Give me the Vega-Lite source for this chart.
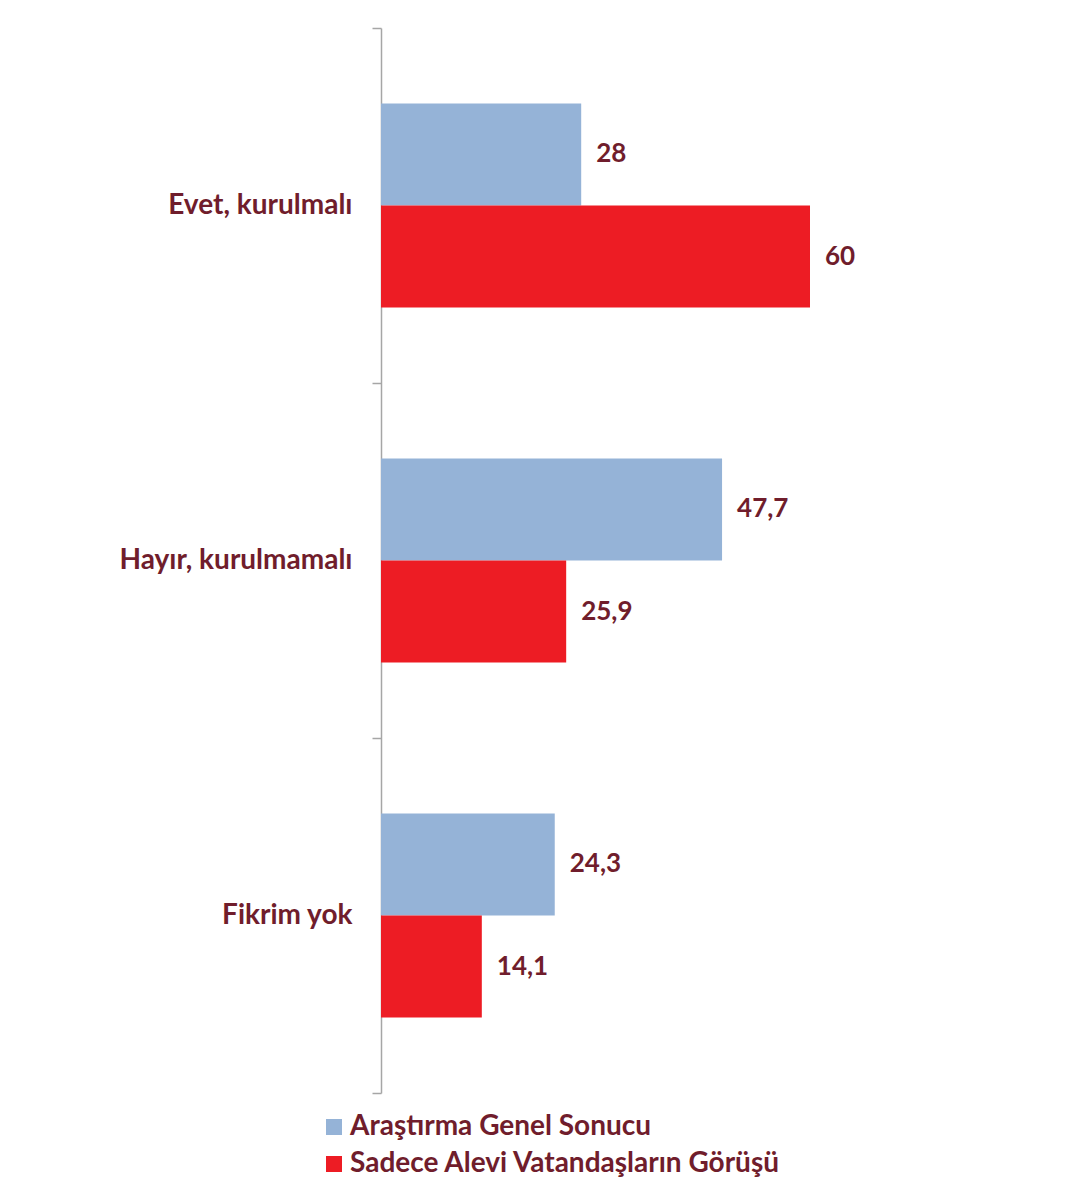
{
  "$schema": "https://vega.github.io/schema/vega-lite/v6.json",
  "width": 429,
  "height": 1065,
  "autosize": {"type": "none"},
  "padding": {"left": 381, "top": 28, "right": 265, "bottom": 109},
  "background": "white",
  "config": {"view": {"stroke": null}},
  "data": {
    "values": [
      {"cat": "Evet, kurulmalı", "series": "Araştırma Genel Sonucu", "value": 28, "label": "28"},
      {"cat": "Evet, kurulmalı", "series": "Sadece Alevi Vatandaşların Görüşü", "value": 60, "label": "60"},
      {"cat": "Hayır, kurulmamalı", "series": "Araştırma Genel Sonucu", "value": 47.7, "label": "47,7"},
      {"cat": "Hayır, kurulmamalı", "series": "Sadece Alevi Vatandaşların Görüşü", "value": 25.9, "label": "25,9"},
      {"cat": "Fikrim yok", "series": "Araştırma Genel Sonucu", "value": 24.3, "label": "24,3"},
      {"cat": "Fikrim yok", "series": "Sadece Alevi Vatandaşların Görüşü", "value": 14.1, "label": "14,1"}
    ]
  },
  "encoding": {
    "y": {
      "field": "cat",
      "type": "nominal",
      "sort": ["Evet, kurulmalı", "Hayır, kurulmamalı", "Fikrim yok"],
      "scale": {"paddingInner": 0, "paddingOuter": 0},
      "axis": {
        "title": null,
        "tickBand": "extent",
        "domainColor": "#A6A6A6",
        "domainWidth": 1.5,
        "tickColor": "#A6A6A6",
        "tickWidth": 1.5,
        "tickSize": 9,
        "labelPadding": 20,
        "labelFont": "Lato",
        "labelFontSize": 28,
        "labelFontWeight": "bold",
        "labelColor": "#701D2C",
        "labelLimit": 400
      }
    },
    "yOffset": {
      "field": "series",
      "type": "nominal",
      "sort": ["Araştırma Genel Sonucu", "Sadece Alevi Vatandaşların Görüşü"],
      "scale": {"paddingInner": 0, "paddingOuter": 0.74}
    },
    "x": {
      "field": "value",
      "type": "quantitative",
      "scale": {"domain": [0, 60], "nice": false},
      "axis": null
    }
  },
  "layer": [
    {
      "mark": {"type": "bar"},
      "encoding": {
        "color": {
          "field": "series",
          "type": "nominal",
          "sort": ["Araştırma Genel Sonucu", "Sadece Alevi Vatandaşların Görüşü"],
          "scale": {"range": ["#95B3D7", "#ED1C24"]},
          "legend": {
            "title": null,
            "orient": "none",
            "legendX": -61,
            "legendY": 1085,
            "symbolType": "square",
            "symbolSize": 256,
            "symbolStrokeWidth": 0,
            "labelFont": "Lato",
            "labelFontSize": 28,
            "labelFontWeight": "bold",
            "labelColor": "#701D2C",
            "labelOffset": 2,
            "labelLimit": 600,
            "rowPadding": 9
          }
        }
      }
    },
    {
      "mark": {
        "type": "text",
        "align": "left",
        "baseline": "middle",
        "dx": 15,
        "font": "Lato",
        "fontSize": 26,
        "fontWeight": "bold",
        "color": "#701D2C"
      },
      "encoding": {"text": {"field": "label"}}
    }
  ]
}
